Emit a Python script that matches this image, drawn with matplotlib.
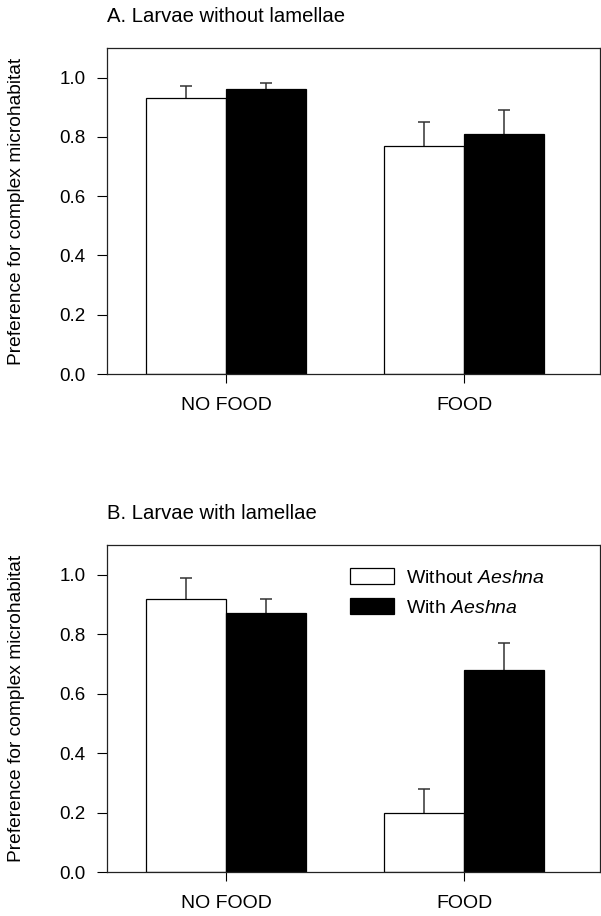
import matplotlib
matplotlib.use("Agg")
import matplotlib.pyplot as plt
import numpy as np

plt.rcParams['font.family'] = ['Liberation Sans', 'DejaVu Sans']
plt.rcParams['mathtext.fontset'] = 'custom'
plt.rcParams['mathtext.rm'] = 'Liberation Sans'
plt.rcParams['mathtext.it'] = 'Liberation Sans:italic'

# data
conditions = ["NO FOOD", "FOOD"]
series_names = ["Without $\\mathit{Aeshna}$", "With $\\mathit{Aeshna}$"]

a_without = [0.93, 0.77]
a_without_err = [0.04, 0.08]
a_with = [0.96, 0.81]
a_with_err = [0.02, 0.08]

b_without = [0.92, 0.20]
b_without_err = [0.07, 0.08]
b_with = [0.87, 0.68]
b_with_err = [0.05, 0.09]

panel_titles = ["A. Larvae without lamellae", "B. Larvae with lamellae"]
yticks = [0.0, 0.2, 0.4, 0.6, 0.8, 1.0]

fig = plt.figure(figsize=(6.01, 9.16), dpi=100)
ax_a = fig.add_axes([0.178, 0.5917, 0.82, 0.356])
ax_b = fig.add_axes([0.178, 0.048, 0.82, 0.357])

x = np.arange(len(conditions))
w = 0.335

def upper_err(ax, xs, vals, errs):
    # only the upper half of the error bar, with a cap on top
    vals = np.asarray(vals)
    errs = np.asarray(errs)
    ax.vlines(xs, vals, vals + errs, color='#333333', linewidth=1.1, zorder=1)
    ax.plot(xs, vals + errs, linestyle='none', marker='_', markersize=9,
            markeredgewidth=1.1, color='#333333', zorder=1)

def draw_panel(ax, without, without_err, with_, with_err, title, legend=False):
    ax.bar(x - w / 2, without, w, color='white', edgecolor='black', linewidth=0.9,
           label=series_names[0], zorder=2)
    ax.bar(x + w / 2, with_, w, color='black', edgecolor='black', linewidth=0.9,
           label=series_names[1], zorder=2)
    upper_err(ax, x - w / 2, without, without_err)
    upper_err(ax, x + w / 2, with_, with_err)
    ax.set_xlim(-0.5, 1.57)
    ax.set_ylim(0, 1.1)
    ax.set_yticks(yticks)
    ax.set_yticklabels([f"{t:.1f}" for t in yticks])
    ax.set_xticks(x)
    ax.set_xticklabels(conditions)
    ax.tick_params(axis='y', direction='out', length=7.5, width=0.8, pad=8, labelsize=13.5)
    ax.tick_params(axis='x', direction='out', length=6.5, width=0.8, pad=10, labelsize=14)
    for s in ax.spines.values():
        s.set_linewidth(0.9)
        s.set_color('#222222')
    ax.set_ylabel("Preference for complex microhabitat", fontsize=13.8)
    ax.yaxis.set_label_coords(-(107 - 25) / 493, 0.5)
    ax.text(0.0, 1.095, title, transform=ax.transAxes, fontsize=14.6,
            ha='left', va='center')
    if legend:
        ax.legend(loc='upper left', bbox_to_anchor=(0.477, 0.952), frameon=False,
                  fontsize=14, handlelength=2.27, handleheight=0.82,
                  handletextpad=0.62, labelspacing=0.6, borderaxespad=0.0)

draw_panel(ax_a, a_without, a_without_err, a_with, a_with_err, panel_titles[0])
draw_panel(ax_b, b_without, b_without_err, b_with, b_with_err, panel_titles[1],
           legend=True)

fig.savefig("out.png", dpi=100)
